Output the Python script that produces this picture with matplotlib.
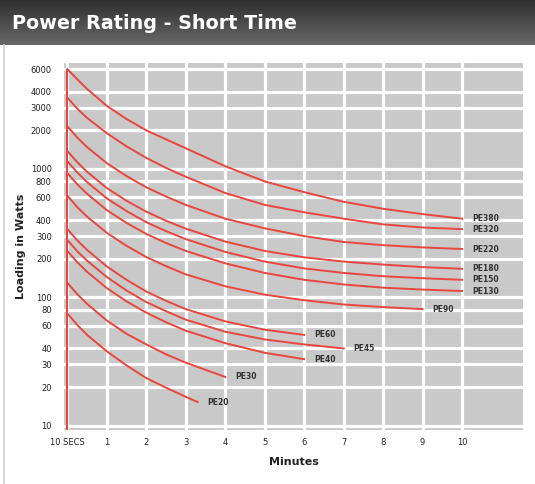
import numpy as np
import matplotlib
matplotlib.use('Agg')
import matplotlib.pyplot as plt
from matplotlib.ticker import NullLocator

# time in minutes, 0 is the "10 SECS" line
t_10 = [0, 0.25, 0.5, 1, 1.5, 2, 2.5, 3, 4, 5, 6, 7, 8, 9, 10]
t_9 = [0, 0.25, 0.5, 1, 1.5, 2, 2.5, 3, 4, 5, 6, 7, 8, 9]
t_7 = [0, 0.25, 0.5, 1, 1.5, 2, 2.5, 3, 4, 5, 6, 7]
t_6 = [0, 0.25, 0.5, 1, 1.5, 2, 2.5, 3, 4, 5, 6]
t_4 = [0, 0.25, 0.5, 1, 1.5, 2, 2.5, 3, 4]
t_3 = [0, 0.25, 0.5, 1, 1.5, 2, 2.5, 3, 3.3]

# loading in watts
pe380 = [6000, 5000, 4200, 3100, 2450, 2000, 1700, 1450, 1050, 800, 660, 555, 490, 445, 410]
pe320 = [3600, 2950, 2500, 1900, 1500, 1220, 1020, 870, 650, 525, 460, 410, 370, 350, 340]
pe220 = [2150, 1760, 1480, 1110, 880, 720, 610, 525, 410, 345, 300, 270, 255, 245, 238]
pe180 = [1380, 1130, 950, 710, 565, 465, 395, 343, 272, 230, 205, 190, 180, 172, 167]
pe150 = [1150, 940, 790, 590, 470, 385, 328, 284, 226, 190, 168, 155, 146, 141, 137]
pe130 = [930, 760, 640, 478, 380, 312, 265, 230, 184, 155, 137, 126, 119, 115, 112]
pe90 = [620, 505, 425, 318, 252, 206, 175, 151, 122, 105, 95, 88, 84, 81]
pe60 = [340, 278, 234, 174, 137, 111, 94, 81, 65, 56, 51]
pe45 = [280, 229, 193, 144, 113, 92, 78, 67, 54, 47, 43, 40]
pe40 = [230, 188, 158, 118, 93, 76, 64, 55, 44, 37, 33]
pe30 = [130, 106, 89, 66, 52, 43, 36, 31, 24]
pe20 = [75, 61, 51, 38, 29.5, 23.5, 19.8, 16.8, 15.3]

names = ['PE380', 'PE320', 'PE220', 'PE180', 'PE150', 'PE130',
         'PE90', 'PE60', 'PE45', 'PE40', 'PE30', 'PE20']
times = [t_10, t_10, t_10, t_10, t_10, t_10, t_9, t_6, t_7, t_6, t_4, t_3]
watts = [pe380, pe320, pe220, pe180, pe150, pe130, pe90, pe60, pe45, pe40, pe30, pe20]

y_ticks = [10, 20, 30, 40, 60, 80, 100, 200, 300, 400, 600, 800, 1000, 2000, 3000, 4000, 6000]
x_ticks = [0, 1, 2, 3, 4, 5, 6, 7, 8, 9, 10]
x_labels = ['10 SECS', '1', '2', '3', '4', '5', '6', '7', '8', '9', '10']

red = '#e8463e'

fig = plt.figure(figsize=(5.35, 4.84), dpi=100)

# dark header band
hdr = fig.add_axes([0, 0.907, 1, 0.093])
grad = np.linspace(0, 1, 64).reshape(-1, 1)
hdr.imshow(grad, cmap=matplotlib.colors.LinearSegmentedColormap.from_list('h', ['#2e2e2e', '#686868']),
           aspect='auto', extent=[0, 1, 0, 1])
hdr.axis('off')
fig.text(0.022, 0.952, 'Power Rating - Short Time', color='white', fontsize=13.8,
         fontweight='bold', va='center', ha='left')

# thin frame line on the page
fig.add_artist(plt.Line2D([0.008, 0.008], [0, 0.907], color='#d0d0d0', lw=1.2))

ax = fig.add_axes([0.12, 0.112, 0.858, 0.758])
ax.set_facecolor('#c9c9c9')
ax.set_yscale('log')
ax.set_ylim(9.3, 6700)
ax.set_xlim(-0.08, 11.55)

ax.vlines(0, 9.3, max(pe380), color=red, lw=1.5, zorder=3)
for name, t, w in zip(names, times, watts):
    ax.plot(t, w, color=red, lw=1.4, zorder=3)
    ax.annotate(name, (t[-1], w[-1]), xytext=(7, 0), textcoords='offset points',
                fontsize=5.5, fontweight='bold', color='#333333', va='center', ha='left')

ax.set_yticks(y_ticks)
ax.set_yticklabels([str(v) for v in y_ticks])
ax.yaxis.set_minor_locator(NullLocator())
ax.set_xticks(x_ticks)
ax.set_xticklabels(x_labels)
ax.tick_params(length=0, labelsize=6, colors='#222222')
ax.tick_params(axis='y', pad=9)
ax.tick_params(axis='x', pad=6)
ax.grid(True, color='white', lw=2.3)
ax.set_axisbelow(True)
for s in ax.spines.values():
    s.set_visible(False)

ax.set_ylabel('Loading in Watts', fontsize=8, fontweight='bold', color='#222222', labelpad=3)
ax.set_xlabel('Minutes', fontsize=8, fontweight='bold', color='#222222', labelpad=7)

fig.savefig('out.png', dpi=100)
